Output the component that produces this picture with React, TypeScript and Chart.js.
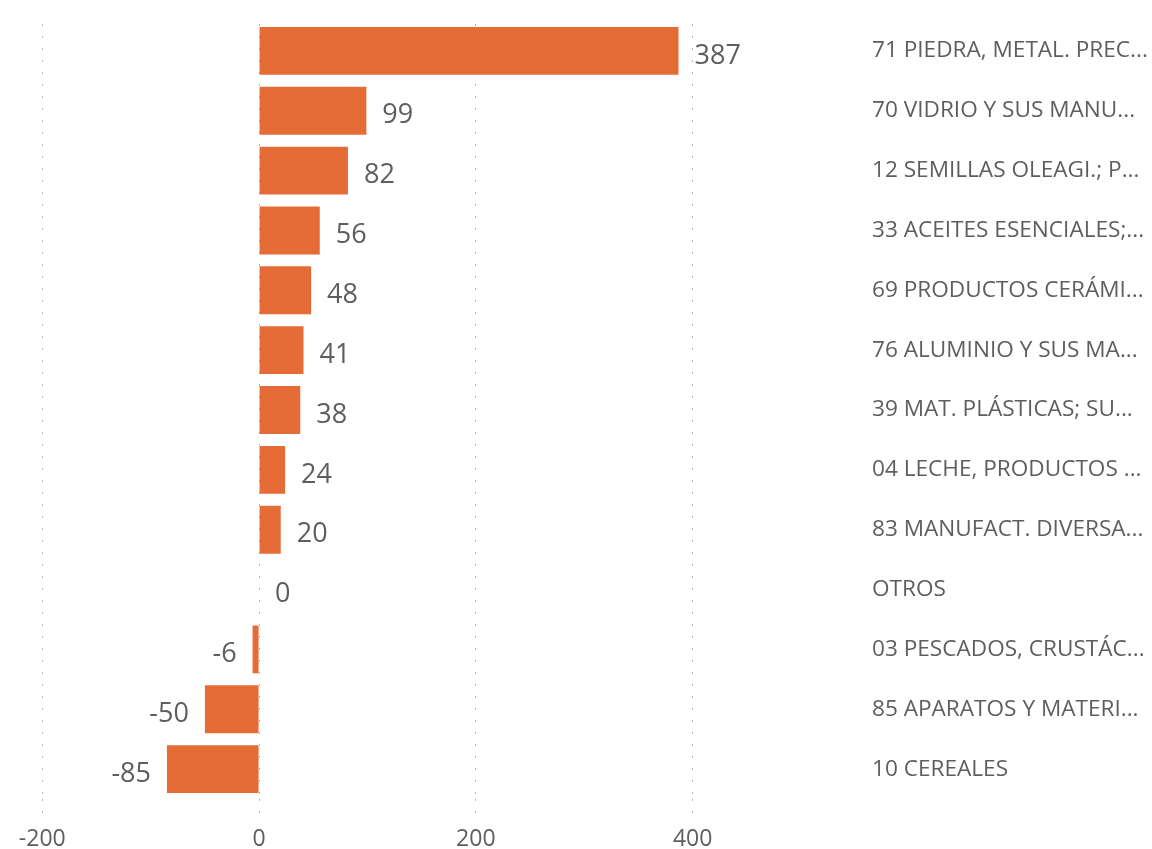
import React, { useEffect, useRef } from 'react';
import { Chart, registerables } from 'chart.js';

Chart.register(...registerables);

const categories = [
  '71 PIEDRA, METAL. PREC...',
  '70 VIDRIO Y SUS MANU...',
  '12 SEMILLAS OLEAGI.; P...',
  '33 ACEITES ESENCIALES;...',
  '69 PRODUCTOS CERÁMI...',
  '76 ALUMINIO Y SUS MA...',
  '39 MAT. PLÁSTICAS; SU...',
  '04 LECHE, PRODUCTOS ...',
  '83 MANUFACT. DIVERSA...',
  'OTROS',
  '03 PESCADOS, CRUSTÁC...',
  '85 APARATOS Y MATERI...',
  '10 CEREALES',
];

const values = [387, 99, 82, 56, 48, 41, 38, 24, 20, 0, -6, -50, -85];

const xTicks = [-200, 0, 200, 400];

const FONT = '"Open Sans", "Noto Sans", sans-serif';
const TEXT = '#605E5C';
const BAR = '#E66C37';
const GRID = '#B8B8B8';

const valueLabels = {
  id: 'valueLabels',
  afterDatasetsDraw(chart: any) {
    const { ctx } = chart;
    const meta = chart.getDatasetMeta(0);
    ctx.save();
    ctx.font = `27px ${FONT}`;
    ctx.fillStyle = TEXT;
    ctx.textBaseline = 'middle';
    meta.data.forEach((bar: any, i: number) => {
      const v = values[i];
      const { x, y } = bar.getProps(['x', 'y'], true);
      if (v < 0) {
        ctx.textAlign = 'right';
        ctx.fillText(String(v), x - 16, y + 5);
      } else {
        ctx.textAlign = 'left';
        ctx.fillText(String(v), x + 16, y + 5);
      }
    });
    ctx.restore();
  },
};

export default function App() {
  const ref = useRef<HTMLCanvasElement | null>(null);

  useEffect(() => {
    document.body.style.margin = '0';
    const canvas = ref.current;
    if (!canvas) return;
    const chart = new Chart(canvas, {
      type: 'bar',
      data: {
        labels: categories,
        datasets: [
          {
            data: values,
            backgroundColor: BAR,
            borderWidth: 0,
            barPercentage: 0.8,
            categoryPercentage: 1,
          },
        ],
      },
      options: {
        indexAxis: 'y',
        responsive: false,
        animation: false,
        layout: { padding: { left: 42.3, top: 21, right: 0, bottom: 0 } },
        plugins: {
          legend: { display: false },
          tooltip: { enabled: false },
        },
        scales: {
          x: {
            type: 'linear',
            min: -200,
            max: 500,
            afterBuildTicks: (scale: any) => {
              scale.ticks = xTicks.map((v) => ({ value: v }));
            },
            afterFit: (scale: any) => {
              scale.height = 50;
            },
            grid: {
              color: GRID,
              lineWidth: 1,
              drawTicks: true,
              tickLength: 17,
              tickColor: GRID,
              tickBorderDash: [2, 10],
            },
            border: { display: false, dash: [2, 10], dashOffset: 9 },
            ticks: {
              color: TEXT,
              font: { family: FONT, size: 23, lineHeight: 1 },
              padding: 12,
              maxRotation: 0,
              autoSkip: false,
            },
          },
          y: {
            type: 'category',
            position: 'right',
            afterFit: (scale: any) => {
              scale.width = 351;
              scale.paddingTop = 0;
              scale.paddingBottom = 0;
            },
            grid: { display: false, drawTicks: false },
            border: { display: false },
            ticks: {
              color: TEXT,
              font: { family: FONT, size: 22.6 },
              padding: 71,
              autoSkip: false,
            },
          },
        },
      },
      plugins: [valueLabels],
    });
    return () => chart.destroy();
  }, []);

  return (
    <div style={{ position: 'absolute', left: 0, top: 0, width: 1152, height: 849 }}>
      <canvas ref={ref} width={1152} height={849} style={{ display: 'block' }} />
    </div>
  );
}
